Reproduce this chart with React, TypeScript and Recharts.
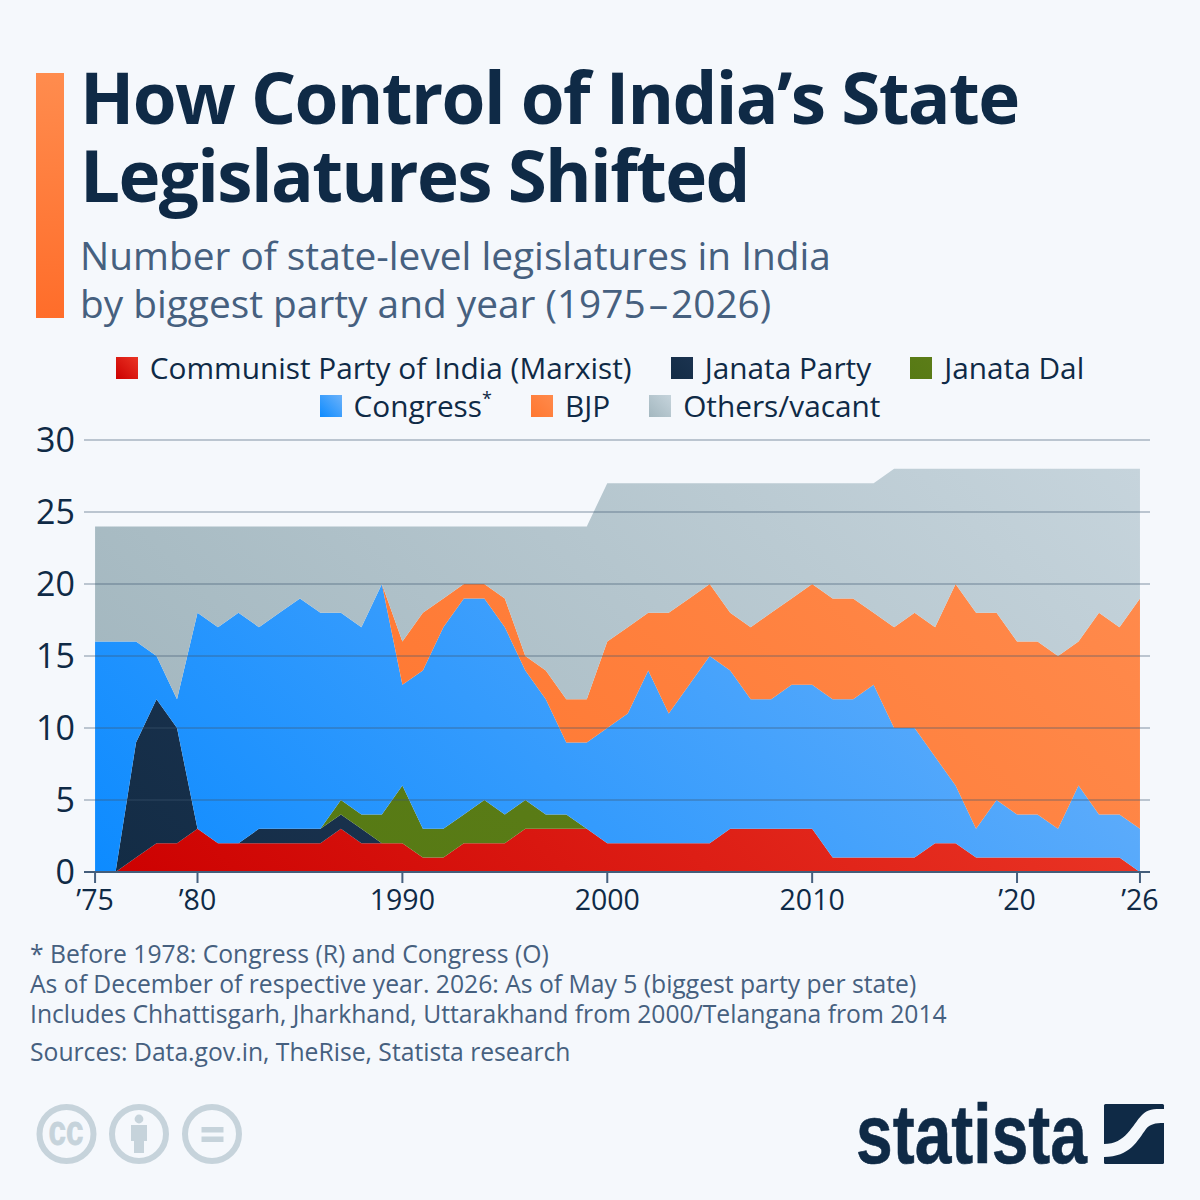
import React from "react";
import { AreaChart, Area, XAxis, YAxis, CartesianGrid, Legend } from "recharts";

const years = [1975,1976,1977,1978,1979,1980,1981,1982,1983,1984,1985,1986,1987,1988,1989,1990,1991,1992,1993,1994,1995,1996,1997,1998,1999,2000,2001,2002,2003,2004,2005,2006,2007,2008,2009,2010,2011,2012,2013,2014,2015,2016,2017,2018,2019,2020,2021,2022,2023,2024,2025,2026];
const cpim = [0,0,1,2,2,3,2,2,2,2,2,2,3,2,2,2,1,1,2,2,2,3,3,3,3,2,2,2,2,2,2,3,3,3,3,3,1,1,1,1,1,2,2,1,1,1,1,1,1,1,1,0];
const janataParty = [0,0,8,10,8,0,0,0,1,1,1,1,1,1,0,0,0,0,0,0,0,0,0,0,0,0,0,0,0,0,0,0,0,0,0,0,0,0,0,0,0,0,0,0,0,0,0,0,0,0,0,0];
const janataDal = [0,0,0,0,0,0,0,0,0,0,0,0,1,1,2,4,2,2,2,3,2,2,1,1,0,0,0,0,0,0,0,0,0,0,0,0,0,0,0,0,0,0,0,0,0,0,0,0,0,0,0,0];
const congress = [16,16,7,3,2,15,15,16,14,15,16,15,13,13,16,7,11,14,15,14,13,9,8,5,6,8,9,12,9,11,13,11,9,9,10,10,11,11,12,9,9,6,4,2,4,3,3,2,5,3,3,3];
const bjp = [0,0,0,0,0,0,0,0,0,0,0,0,0,0,0,3,4,2,1,1,2,1,2,3,3,6,6,4,7,6,5,4,5,6,6,7,7,7,5,7,8,9,14,15,13,12,12,12,10,14,13,16];
const others = [8,8,8,9,12,6,7,6,7,6,5,6,6,7,4,8,6,5,4,4,5,9,10,12,12,11,10,9,9,8,7,9,10,9,8,7,8,8,9,11,10,11,8,10,10,12,12,13,12,10,11,9];

const xTicks = [1975,1980,1990,2000,2010,2020,2026];
const xLabels = ["’75","’80","1990","2000","2010","’20","’26"];
const yTicks = [0,5,10,15,20,25,30];

const legendRows = [
  [["cpim","Communist Party of India (Marxist)"],["jp","Janata Party"],["jd","Janata Dal"]],
  [["cong","Congress"],["bjp","BJP"],["oth","Others/vacant"]],
];
const gradients: Record<string,[string,string]> = {
  cpim: ["#cc0000","#ea3525"],
  jp: ["#132c45","#1b3350"],
  jd: ["#567a14","#5c7c18"],
  cong: ["#0d8bff","#6cb2fa"],
  bjp: ["#ff7730","#ff8a4c"],
  oth: ["#a3b7bf","#c6d4dc"],
};
const gradientVectors: Record<string,[number,number,number,number]> = {
  cpim: [95,872,638,328],
  jp: [115,872,333,654],
  jd: [320,872,580,612],
  cong: [95,872,761,206],
  bjp: [381,830,883,328],
  oth: [95,699,732,62],
};

const data = years.map((year, i) => ({
  year, cpim: cpim[i], jp: janataParty[i], jd: janataDal[i], cong: congress[i], bjp: bjp[i], oth: others[i],
}));

const navy = "#0f2a46";
const slate = "#46607f";
const ccGrey = "#c6d3db";
const font = "'Open Sans', sans-serif";

const LegendContent = () => (
  <div style={{ fontFamily: font, fontSize: 29.8, color: navy, lineHeight: "38px" }}>
    {legendRows.map((row, r) => (
      <div key={r} style={{ display: "flex", justifyContent: "center", gap: 39, height: 38, alignItems: "center", whiteSpace: "nowrap" }}>
        {row.map(([key, label]) => (
          <span key={key} style={{ display: "inline-flex", alignItems: "center" }}>
            <span style={{ width: 22, height: 22, marginRight: 12, display: "inline-block",
              background: `linear-gradient(45deg, ${gradients[key][0]}, ${gradients[key][1]})` }} />
            {label}
            {key === "cong" && <span style={{ fontSize: 18, position: "relative", top: -8 }}>*</span>}
          </span>
        ))}
      </div>
    ))}
  </div>
);

const abs = (left: number, top: number, extra: React.CSSProperties = {}): React.CSSProperties => ({
  position: "absolute", left, top, fontFamily: font, whiteSpace: "nowrap", ...extra,
});

export default function App() {
  return (
    <div style={{ position: "absolute", left: 0, top: 0, width: 1200, height: 1200, background: "#f5f8fc", overflow: "hidden" }}>
      <div style={abs(36, 73, { width: 28, height: 245, background: "linear-gradient(180deg,#ff8c4e,#ff6d2a)" })} />
      <div style={abs(80, 58, { fontSize: 71, fontWeight: 700, lineHeight: "78px", letterSpacing: "-1.65px", color: navy })}>
        How Control of India’s State<br />Legislatures Shifted
      </div>
      <div style={abs(80, 231, { fontSize: 38.8, lineHeight: "48px", color: slate })}>
        Number of state-level legislatures in India<br />by biggest party and year (1975<span style={{ margin: "0 3px" }}>–</span>2026)
      </div>

      <div style={{ position: "absolute", left: 0, top: 0 }}>
        <AreaChart width={1200} height={1200} data={data} stackOffset="none"
          margin={{ top: 440, right: 50, bottom: 288, left: 36 }}>
          <defs>
            {Object.keys(gradients).map((k) => (
              <linearGradient key={k} id={`grad-${k}`} gradientUnits="userSpaceOnUse"
                x1={gradientVectors[k][0]} y1={gradientVectors[k][1]} x2={gradientVectors[k][2]} y2={gradientVectors[k][3]}>
                <stop offset="0%" stopColor={gradients[k][0]} />
                <stop offset="100%" stopColor={gradients[k][1]} />
              </linearGradient>
            ))}
          </defs>
          <XAxis dataKey="year" type="number" domain={[1974.46, 2026.49]} ticks={xTicks} interval={0}
            tickFormatter={(v: number) => xLabels[xTicks.indexOf(v)]}
            height={40} tickSize={11} tickMargin={7}
            axisLine={{ stroke: slate, strokeWidth: 2 }} tickLine={{ stroke: slate, strokeWidth: 2 }}
            tick={{ fill: navy, fontSize: 28.5, fontFamily: font }} />
          <YAxis type="number" domain={[0, 30]} ticks={yTicks} interval={0} width={48}
            tickSize={0} tickMargin={9} axisLine={false}
            tick={{ fill: navy, fontSize: 34, fontFamily: font }} />
          {["cpim","jp","jd","cong","bjp","oth"].map((k) => (
            <Area key={k} dataKey={k} stackId="a" type="linear" stroke="none" fill={`url(#grad-${k})`}
              fillOpacity={1} isAnimationActive={false} dot={false} activeDot={false} />
          ))}
          <CartesianGrid vertical={false} stroke="#3f566f" strokeOpacity={0.42} strokeWidth={1.5} zIndex={500} />
          <Legend layout="horizontal" verticalAlign="middle" content={<LegendContent />}
            wrapperStyle={{ position: "absolute", left: 0, top: 349, width: 1200, height: 76 }} />
        </AreaChart>
      </div>

      <div style={abs(30, 939, { fontSize: 24.7, lineHeight: "30px", color: slate })}>
        * Before 1978: Congress (R) and Congress (O)<br />
        As of December of respective year. 2026: As of May 5 (biggest party per state)<br />
        Includes Chhattisgarh, Jharkhand, Uttarakhand from 2000/Telangana from 2014
      </div>
      <div style={abs(30, 1037, { fontSize: 24.7, lineHeight: "30px", color: slate })}>
        Sources: Data.gov.in, TheRise, Statista research
      </div>

      <svg width={1200} height={1200} style={{ position: "absolute", left: 0, top: 0, pointerEvents: "none" }}>
        <g fill="none" stroke={ccGrey} strokeWidth={6}>
          <circle cx={66.5} cy={1134} r={27} />
          <circle cx={139} cy={1134} r={27} />
          <circle cx={212} cy={1134} r={27} />
        </g>
        <text x={66} y={1145} textAnchor="middle" fontFamily="'Liberation Sans', sans-serif" fontWeight={700} fontSize={42} fill={ccGrey} stroke={ccGrey} strokeWidth={0.8} textLength={35} lengthAdjust="spacingAndGlyphs">cc</text>
        <circle cx={139} cy={1119} r={4.4} fill={ccGrey} />
        <path d="M131 1125h16v16h-3v12h-10v-12h-3z" fill={ccGrey} />
        <rect x={201.5} y={1127} width={22} height={5.5} fill={ccGrey} />
        <rect x={201.5} y={1136.5} width={22} height={5.5} fill={ccGrey} />

        <text x={856} y={1163} fontFamily="'Liberation Sans Narrow','Liberation Sans',sans-serif" fontWeight={700} fontSize={84} fill={navy} stroke={navy} strokeWidth={0.6} textLength={231} lengthAdjust="spacingAndGlyphs">statista</text>
        <rect x={1104} y={1104} width={60} height={60} rx={1.5} fill={navy} />
        <path d="M1104 1144C1126 1144 1132 1125 1142 1115C1148 1109 1153 1109 1164 1109V1123C1155 1123 1150 1124 1146 1129C1138 1140 1130 1157 1104 1157Z" fill="#f5f8fc" />
      </svg>
    </div>
  );
}
